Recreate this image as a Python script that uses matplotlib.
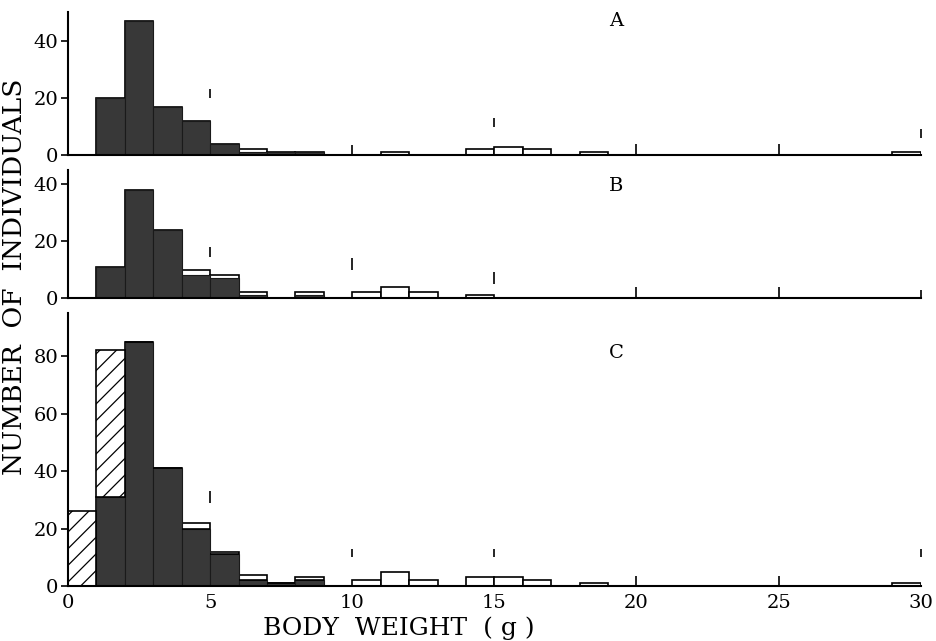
import matplotlib.pyplot as plt
import numpy as np

plt.rcParams['font.family'] = ['DejaVu Serif']

# 1 g bins, left edges 0..29
bins = np.arange(0, 30)

# panel A
A_total = [0, 20, 47, 17, 12, 4, 2, 1, 1, 0, 0, 1, 0, 0, 2, 3, 2, 0, 1, 0,
           0, 0, 0, 0, 0, 0, 0, 0, 0, 1]
A_dark = [0, 20, 47, 17, 12, 4, 1, 1, 1, 0, 0, 0, 0, 0, 0, 0, 0, 0, 0, 0,
          0, 0, 0, 0, 0, 0, 0, 0, 0, 0]

# panel B
B_total = [0, 11, 38, 24, 10, 8, 2, 0, 2, 0, 2, 4, 2, 0, 1, 0, 0, 0, 0, 0,
           0, 0, 0, 0, 0, 0, 0, 0, 0, 0]
B_dark = [0, 11, 38, 24, 8, 7, 1, 0, 1, 0, 0, 0, 0, 0, 0, 0, 0, 0, 0, 0,
          0, 0, 0, 0, 0, 0, 0, 0, 0, 0]

# panel C
C_total = [0, 31, 85, 41, 22, 12, 4, 1, 3, 0, 2, 5, 2, 0, 3, 3, 2, 0, 1, 0,
           0, 0, 0, 0, 0, 0, 0, 0, 0, 1]
C_dark = [0, 31, 85, 41, 20, 11, 2, 1, 2, 0, 0, 0, 0, 0, 0, 0, 0, 0, 0, 0,
          0, 0, 0, 0, 0, 0, 0, 0, 0, 0]
C_hatch = [26, 51, 0, 0, 0, 0, 0, 0, 0, 0, 0, 0, 0, 0, 0, 0, 0, 0, 0, 0,
           0, 0, 0, 0, 0, 0, 0, 0, 0, 0]

# short vertical guide marks drawn in the original
marks_x = [5, 10, 15, 20, 25, 30]
A_mark_lo = [20, 0.5, 10, 0, 0, 6]
A_mark_hi = [23, 3.5, 13, 4, 4, 9]
B_mark_lo = [14.5, 10, 5, 0, 0, 0]
B_mark_hi = [18, 14, 9, 4, 4, 3]
C_mark_lo = [29, 10, 10, 0, 0, 10]
C_mark_hi = [33, 13, 13, 3.5, 3.5, 13]

dark = '#383838'

fig = plt.figure(figsize=(9.37, 6.41), dpi=100)
axA = fig.add_axes([0.0726, 0.758, 0.910, 0.223])
axB = fig.add_axes([0.0726, 0.535, 0.910, 0.200])
axC = fig.add_axes([0.0726, 0.0858, 0.910, 0.426])

panels = [
    (axA, A_total, A_dark, A_mark_lo, A_mark_hi, 50, [0, 20, 40], 'A', 47),
    (axB, B_total, B_dark, B_mark_lo, B_mark_hi, 45, [0, 20, 40], 'B', 39.5),
    (axC, C_total, C_dark, C_mark_lo, C_mark_hi, 95, [0, 20, 40, 60, 80], 'C', 81),
]

for ax, total, dk, lo, hi, top, yt, letter, ly in panels:
    ax.bar(bins, total, width=1, align='edge', facecolor='white',
           edgecolor='black', linewidth=1.2, zorder=1)
    ax.bar(bins, dk, width=1, align='edge', facecolor=dark,
           edgecolor='#1a1a1a', linewidth=0.8, zorder=2)
    ax.vlines(marks_x, lo, hi, color='black', linewidth=1.2, clip_on=False)
    ax.set_xlim(0, 30)
    ax.set_ylim(0, top)
    ax.set_yticks(yt)
    ax.set_xticks([0, 5, 10, 15, 20, 25, 30])
    for s in ['top', 'right']:
        ax.spines[s].set_visible(False)
    ax.spines['left'].set_linewidth(1.5)
    ax.spines['bottom'].set_linewidth(1.5)
    ax.tick_params(axis='y', direction='out', length=5, width=1.2,
                   labelsize=14, pad=2)
    ax.tick_params(axis='x', length=0, labelsize=14, pad=6)
    ax.text(19.3, ly, letter, fontsize=14, ha='center', va='center')

axA.tick_params(axis='x', labelbottom=False)
axB.tick_params(axis='x', labelbottom=False)

plt.rcParams['hatch.linewidth'] = 0.9
axC.bar(bins, C_hatch, width=1, align='edge', bottom=C_dark,
        facecolor='white', edgecolor='black', hatch='//', linewidth=1.2,
        zorder=2)

fig.text(0.016, 0.568, 'NUMBER  OF  INDIVIDUALS', rotation=90,
         ha='center', va='center', fontsize=19)
fig.text(0.426, 0.02, 'BODY  WEIGHT  ( g )', ha='center', va='center',
         fontsize=18)

fig.savefig('out.png', dpi=100)
